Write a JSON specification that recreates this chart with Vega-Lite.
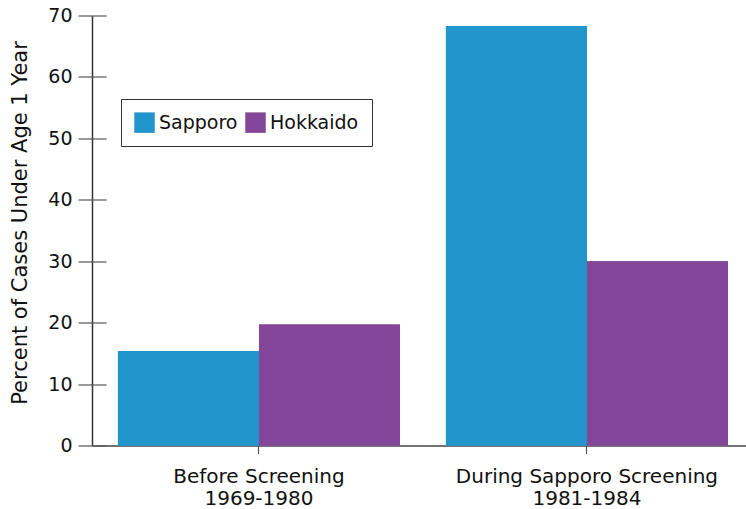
{
  "$schema": "https://vega.github.io/schema/vega-lite/v6.json",
  "width": 654,
  "height": 430,
  "autosize": "none",
  "padding": {"left": 92, "top": 15.5, "right": 0, "bottom": 63.5},
  "background": "white",
  "data": {
    "values": [
      {"period": "Before Screening|1969-1980", "region": "Sapporo", "percent": 15.4},
      {"period": "Before Screening|1969-1980", "region": "Hokkaido", "percent": 19.7},
      {"period": "During Sapporo Screening|1981-1984", "region": "Sapporo", "percent": 68.3},
      {"period": "During Sapporo Screening|1981-1984", "region": "Hokkaido", "percent": 30.0}
    ]
  },
  "encoding": {
    "x": {
      "field": "period",
      "type": "nominal",
      "sort": null,
      "scale": {"paddingInner": 0.14, "paddingOuter": 0.067, "align": 0.59},
      "axis": {
        "title": null,
        "labelAngle": 0,
        "labelExpr": "split(datum.label, '|')",
        "labelFont": "DejaVu Sans",
        "labelFontSize": 20,
        "labelLineHeight": 22,
        "labelLimit": 0,
        "labelColor": "#111",
        "labelPadding": 13,
        "tickSize": 8,
        "tickColor": "#555",
        "tickWidth": 1.2,
        "domainColor": "#444",
        "domainWidth": 1.5,
        "grid": false
      }
    },
    "xOffset": {
      "field": "region",
      "type": "nominal",
      "sort": ["Sapporo", "Hokkaido"],
      "scale": {"paddingInner": 0, "paddingOuter": 0}
    },
    "color": {
      "field": "region",
      "type": "nominal",
      "sort": ["Sapporo", "Hokkaido"],
      "scale": {"domain": ["Sapporo", "Hokkaido"], "range": ["#2296cc", "#844698"]},
      "legend": {
        "title": null,
        "orient": "none",
        "legendX": 29,
        "legendY": 83.5,
        "direction": "horizontal",
        "padding": 13,
        "strokeColor": "#333",
        "fillColor": "white",
        "symbolType": "square",
        "symbolSize": 420,
        "symbolStrokeWidth": 0,
        "symbolOpacity": 1,
        "labelFont": "DejaVu Sans",
        "labelFontSize": 19,
        "labelColor": "#111",
        "labelOffset": 4,
        "columnPadding": 7
      }
    }
  },
  "layer": [
    {
      "mark": {"type": "bar"},
      "encoding": {
        "y": {
          "field": "percent",
          "type": "quantitative",
          "scale": {"domain": [0, 70], "nice": false},
          "axis": {
            "orient": "left",
            "title": "Percent of Cases Under Age 1 Year",
            "titleFont": "DejaVu Sans",
            "titleFontSize": 21,
            "titleFontWeight": "normal",
            "titleColor": "#111",
            "titleBaseline": "alphabetic",
            "titleX": -66,
            "titleY": 207,
            "ticks": false,
            "labels": false,
            "grid": false,
            "domain": true,
            "domainColor": "#333",
            "domainWidth": 1.5
          }
        }
      }
    },
    {
      "mark": {"type": "bar"},
      "encoding": {
        "y": {
          "field": "percent",
          "type": "quantitative",
          "scale": {"domain": [0, 70], "nice": false},
          "axis": {
            "orient": "left",
            "title": null,
            "offset": -14,
            "domain": false,
            "grid": false,
            "values": [0, 10, 20, 30, 40, 50, 60, 70],
            "tickSize": 28,
            "tickColor": "#555",
            "tickWidth": 1.2,
            "labelFont": "DejaVu Sans",
            "labelFontSize": 19,
            "labelColor": "#111",
            "labelPadding": 6
          }
        }
      }
    }
  ],
  "resolve": {"axis": {"y": "independent"}},
  "config": {"view": {"stroke": null}}
}
